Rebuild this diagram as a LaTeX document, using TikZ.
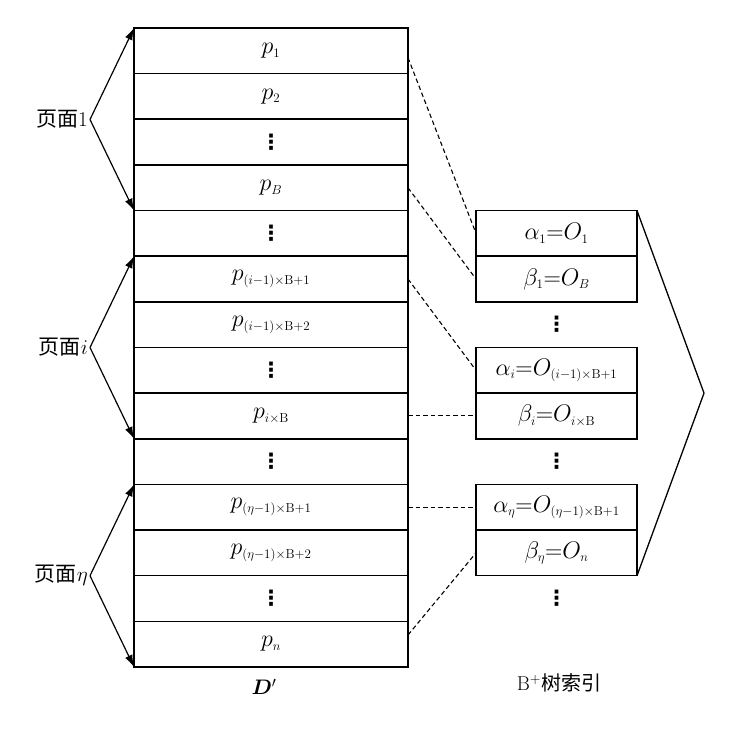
\RequirePackage{fix-cm}
\documentclass[tikz,border=0pt]{standalone}
\usepackage{bm}
\usepackage{fontspec}
\newfontfamily\cjk{Noto Sans CJK SC}
\newfontfamily\djv{DejaVu Sans}
\DeclareMathSizes{24}{24}{13}{10}
\newcommand\vdts{{\djv\bfseries\fontsize{21}{24}\selectfont ⋮}}
\usetikzlibrary{arrows.meta,calc}
\begin{document}
\begin{tikzpicture}[x=1pt,y=-1pt,
  cell/.style={draw,line width=1.6pt,minimum width=274pt,minimum height=45.64pt,inner sep=0pt,outer sep=0pt,font=\fontsize{24}{26}\selectfont},
  icell/.style={cell,minimum width=161pt},
  plain/.style={inner sep=0pt,font=\fontsize{24}{26}\selectfont},
  lbl/.style={font=\fontsize{21}{24}\selectfont,inner sep=2pt,anchor=east},
  brk/.style={line width=1.2pt,-{Latex[length=12pt,width=8pt]}},
  link/.style={line width=1.1pt,dash pattern=on 4.5pt off 3pt},
  edge/.style={line width=1.3pt}]
\useasboundingbox (0,0) rectangle (738,737);
\fill[white] (0,0) rectangle (738,737);
% left column
\node[cell] (r0)  at (271, 50.82)  {$p_1$};
\node[cell] (r1)  at (271, 96.46)  {$p_2$};
\node[cell] (r2)  at (271, 142.10) {\vdts};
\node[cell] (r3)  at (271, 187.74) {$p_B$};
\node[cell] (r4)  at (271, 233.38) {\vdts};
\node[cell] (r5)  at (271, 279.02) {$p_{(i-1)\times \mathrm{B}+1}$};
\node[cell] (r6)  at (271, 324.66) {$p_{(i-1)\times \mathrm{B}+2}$};
\node[cell] (r7)  at (271, 370.30) {\vdts};
\node[cell] (r8)  at (271, 415.94) {$p_{i\times \mathrm{B}}$};
\node[cell] (r9)  at (271, 461.58) {\vdts};
\node[cell] (r10) at (271, 507.22) {$p_{(\eta-1)\times \mathrm{B}+1}$};
\node[cell] (r11) at (271, 552.86) {$p_{(\eta-1)\times \mathrm{B}+2}$};
\node[cell] (r12) at (271, 598.50) {\vdts};
\node[cell] (r13) at (271, 644.14) {$p_n$};
\node[plain,font=\fontsize{21}{24}\selectfont] (dlab) at (264, 687) {$\bm{D}'$};
% right index boxes
\node[icell] (a1) at (556.5, 233.38) {$\alpha_1{=}O_1$};
\node[icell] (b1) at (556.5, 279.02) {$\beta_1{=}O_B$};
\node[plain] (d1) at (556.5, 324.66) {\vdts};
\node[icell] (ai) at (556.5, 370.30) {$\alpha_i{=}O_{(i-1)\times \mathrm{B}+1}$};
\node[icell] (bi) at (556.5, 415.94) {$\beta_i{=}O_{i\times \mathrm{B}}$};
\node[plain] (d2) at (556.5, 461.58) {\vdts};
\node[icell] (ae) at (556.5, 507.22) {$\alpha_\eta{=}O_{(\eta-1)\times \mathrm{B}+1}$};
\node[icell] (be) at (556.5, 552.86) {$\beta_\eta{=}O_n$};
\node[plain] (d3) at (556.5, 598.50) {\vdts};
\node[font=\fontsize{20}{24}\selectfont,inner sep=0pt] (blab) at (559, 683) {B$^+${\cjk 树索引}};
\coordinate (apex) at (704, 393.1);
\draw[edge] (a1.north east) -- (apex) -- (be.south east);
% page labels and brackets
\node[lbl] (pg1) at (90, 119.5) {{\cjk 页面}1};
\node[lbl] (pgi) at (90, 347.5) {{\cjk 页面}$i$};
\node[lbl] (pge) at (90, 575.7) {{\cjk 页面}$\eta$};
\draw[brk] (pg1.east) -- (r0.north west);
\draw[brk] (pg1.east) -- (r3.south west);
\draw[brk] (pgi.east) -- (r5.north west);
\draw[brk] (pgi.east) -- (r8.south west);
\draw[brk] (pge.east) -- (r10.north west);
\draw[brk] (pge.east) -- (r13.south west);
% dashed links
\draw[link] ($(r0.east)!0.3!(r0.south east)$) -- (a1.west);
\draw[link] (r3.east) -- (b1.west);
\draw[link] (r5.east) -- (ai.west);
\draw[link] (r8.east) -- (bi.west);
\draw[link] (r10.east) -- (ae.west);
\draw[link] ($(r13.east)!0.4!(r13.north east)$) -- (be.west);
\end{tikzpicture}
\end{document}
